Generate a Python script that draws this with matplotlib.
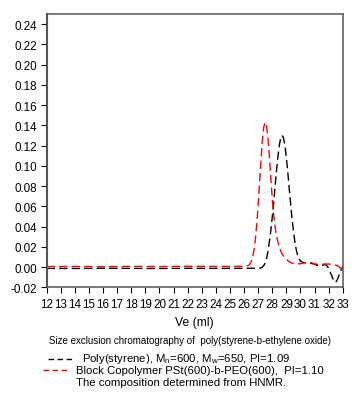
import matplotlib
matplotlib.use("Agg")
import matplotlib.pyplot as plt
from matplotlib.lines import Line2D

plt.rcParams['font.family'] = ['Liberation Sans', 'DejaVu Sans']
plt.rcParams['mathtext.fontset'] = 'custom'
plt.rcParams['mathtext.rm'] = 'Liberation Sans'
plt.rcParams['mathtext.it'] = 'Liberation Sans'

# Poly(styrene) trace (black)
ps_x = [12, 14, 16, 18, 20, 22, 24, 26, 27.0, 27.2, 27.3, 27.4, 27.5, 27.6, 27.7, 27.8,
        27.9, 28.0, 28.1, 28.2, 28.3, 28.4, 28.5, 28.6, 28.7, 28.8, 28.9, 29.0, 29.1,
        29.2, 29.3, 29.4, 29.5, 29.6, 29.7, 29.8, 29.9, 30.0, 30.2, 30.5, 30.8, 31.0,
        31.2, 31.4, 31.6, 31.8, 32.0, 32.2, 32.4, 32.5, 32.6, 32.8, 33.0]
ps_y = [-0.0013, -0.0014, -0.0012, -0.0013, -0.0014, -0.0012, -0.0013, -0.0012, -0.0012,
        -0.0008, 0.0, 0.0015, 0.004, 0.0085, 0.0155, 0.025, 0.036, 0.049, 0.063, 0.079,
        0.0945, 0.1085, 0.120, 0.1275, 0.130, 0.1275, 0.120, 0.1086, 0.0944, 0.0789,
        0.0633, 0.0488, 0.0361, 0.0257, 0.0176, 0.0116, 0.0080, 0.0060, 0.0045, 0.004,
        0.0035, 0.003, 0.0015, 0.001, 0.002, 0.0025, -0.001, -0.008, -0.0145, -0.015,
        -0.013, -0.006, 0.0005]

# Block copolymer trace (red)
bc_x = [12, 14, 16, 18, 20, 22, 24, 25.5, 26.0, 26.2, 26.3, 26.4, 26.5, 26.6, 26.7, 26.8,
        26.9, 27.0, 27.1, 27.2, 27.3, 27.4, 27.5, 27.6, 27.7, 27.8, 27.9, 28.0, 28.1,
        28.2, 28.3, 28.4, 28.5, 28.6, 28.7, 28.9, 29.1, 29.3, 29.5, 29.8, 30.1, 30.4,
        30.6, 30.8, 31.0, 31.3, 31.6, 32.0, 32.3, 32.6, 32.8, 33.0]
bc_y = [0.0005, 0.0006, 0.0004, 0.0007, 0.0005, 0.0008, 0.0006, 0.0007, 0.0008, 0.0012,
        0.0015, 0.0027, 0.005, 0.0092, 0.0161, 0.0268, 0.0416, 0.0607, 0.0827, 0.1053,
        0.125, 0.1385, 0.143, 0.139, 0.127, 0.109, 0.088, 0.068, 0.052, 0.040, 0.031,
        0.025, 0.020, 0.016, 0.013, 0.009, 0.0065, 0.0045, 0.0035, 0.003, 0.0035, 0.0045,
        0.005, 0.0042, 0.003, 0.0025, 0.003, 0.003, 0.0025, 0.0015, -0.0005, -0.003]

x_ticks = list(range(12, 34))
y_ticks = [-0.02, 0.0, 0.02, 0.04, 0.06, 0.08, 0.10, 0.12, 0.14, 0.16, 0.18, 0.20, 0.22, 0.24]

fig = plt.figure(figsize=(3.59, 4.02), dpi=100)
ax = fig.add_axes([0.130, 0.2828, 0.8246, 0.6799])

ax.plot(ps_x, ps_y, color='black', lw=1.0, dashes=(6, 3))
ax.plot(bc_x, bc_y, color='#ff0000', lw=1.0, dashes=(6, 3))

ax.set_xlim(12, 33)
ax.set_ylim(-0.02, 0.25)
ax.set_xticks(x_ticks)
ax.set_xticklabels([str(t) for t in x_ticks])
ax.set_yticks(y_ticks)
ax.set_yticklabels([f"{t:.2f}" for t in y_ticks])

for s in ax.spines.values():
    s.set_color('#555555')
    s.set_linewidth(1.1)
ax.spines['left'].set_linewidth(1.5)

ax.tick_params(axis='both', direction='out', length=4.3, width=0.8, color='black',
               labelsize=8.4, pad=2.5)
ax.tick_params(axis='x', pad=3.5)
ax.set_xlabel('Ve (ml)', fontsize=8.7, labelpad=4)

fig.text(0.529, 0.1525, 'Size exclusion chromatography of  poly(styrene-b-ethylene oxide)',
         ha='center', va='center', fontsize=7.0)

# legend
fig.add_artist(Line2D([48/359, 72/359], [1-360/402, 1-360/402], color='black', lw=1.0,
                      dashes=(4, 2.5)))
fig.add_artist(Line2D([43/359, 68/359], [1-371/402, 1-371/402], color='#ff0000', lw=1.0,
                      dashes=(4, 2.5)))
fig.text(81.7/359, 1-359/402, 'Poly(styrene), M$_{n}$=600, M$_{w}$=650, PI=1.09',
         ha='left', va='center', fontsize=8.2)
fig.text(76/359, 1-371/402, 'Block Copolymer PSt(600)-b-PEO(600),  PI=1.10',
         ha='left', va='center', fontsize=8.2)
fig.text(76/359, 1-383/402, 'The composition determined from HNMR.',
         ha='left', va='center', fontsize=8.2)

fig.savefig('out.png', dpi=100)
